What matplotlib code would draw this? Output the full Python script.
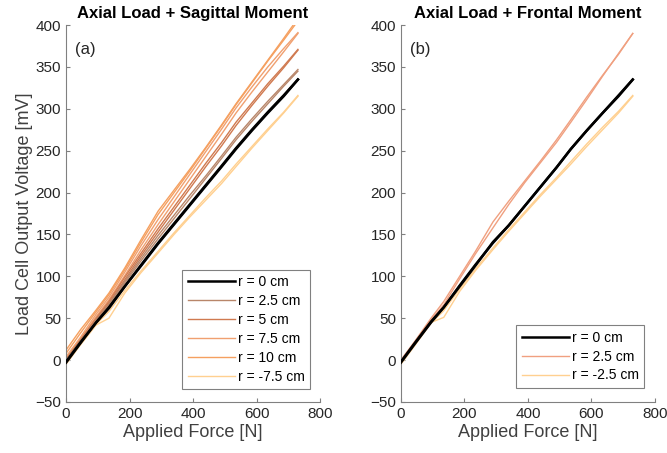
import matplotlib
matplotlib.use("Agg")
import matplotlib.pyplot as plt
import numpy as np

plt.rcParams["font.family"] = ["Liberation Sans", "DejaVu Sans"]

# applied force steps [N]
force = [0, 45, 95, 135, 185, 235, 290, 340, 390, 440, 490, 535, 585, 635, 685, 730]

# panel (a): axial load + sagittal moment, two trials per offset [mV]
sag_labels = ["r = 0 cm", "r = 2.5 cm", "r = 5 cm", "r = 7.5 cm", "r = 10 cm", "r = -7.5 cm"]
sag_r0 = [[-3, 20, 45, 62, 88, 113, 140, 163, 186, 209, 232, 253, 275, 296, 316, 335],
          [-2, 21, 45, 63, 88, 112, 139, 162, 185, 208, 231, 252, 274, 295, 315, 335]]
sag_r25 = [[-2, 21, 47, 65, 92, 118, 145, 169, 193, 217, 241, 263, 285, 306, 327, 345],
           [0, 23, 48, 67, 94, 121, 149, 173, 197, 220, 244, 266, 288, 309, 329, 347]]
sag_r5 = [[-1, 22, 48, 68, 96, 124, 153, 179, 205, 231, 256, 280, 304, 327, 349, 370],
          [1, 24, 50, 70, 99, 127, 157, 183, 209, 235, 260, 284, 307, 330, 351, 371]]
sag_r75 = [[2, 25, 52, 72, 101, 131, 162, 189, 216, 243, 270, 295, 320, 344, 368, 390],
           [4, 27, 55, 75, 105, 136, 168, 195, 222, 249, 276, 301, 326, 350, 372, 391]]
sag_r10 = [[12, 36, 60, 80, 110, 143, 178, 203, 228, 254, 281, 306, 332, 358, 384, 408],
           [8, 32, 58, 78, 108, 140, 174, 200, 226, 253, 280, 305, 331, 357, 382, 405]]
sag_rm75 = [[-5, 18, 42, 50, 80, 104, 128, 150, 171, 191, 211, 231, 253, 274, 295, 315],
            [-4, 19, 43, 58, 83, 106, 130, 152, 173, 194, 214, 234, 255, 276, 296, 316]]
sag_colors = ["#000000", "#B8866A", "#D07A50", "#F0A070", "#F5A060", "#FFD090"]

# panel (b): axial load + frontal moment [mV]
fro_labels = ["r = 0 cm", "r = 2.5 cm", "r = -2.5 cm"]
fro_r0 = [[-3, 20, 45, 63, 88, 113, 141, 161, 184, 207, 230, 252, 274, 295, 316, 335],
          [-2, 21, 46, 63, 89, 114, 140, 161, 184, 207, 230, 252, 274, 295, 315, 335]]
fro_r25 = [[0, 23, 50, 70, 100, 130, 165, 190, 214, 238, 263, 287, 314, 340, 365, 390],
           [-1, 22, 48, 66, 97, 127, 158, 186, 212, 236, 260, 284, 311, 339, 366, 390]]
fro_rm25 = [[-5, 18, 45, 51, 82, 107, 132, 154, 175, 196, 216, 234, 255, 275, 295, 315],
            [-4, 19, 44, 59, 85, 109, 134, 156, 177, 198, 218, 237, 258, 278, 297, 316]]
fro_colors = ["#000000", "#F0A080", "#FFD090"]


def style_axes(ax, title, tag):
    ax.set_xlim(0, 800)
    ax.set_ylim(-50, 400)
    ax.set_xticks(np.arange(0, 801, 200))
    ax.set_yticks(np.arange(-50, 401, 50))
    for side in ["top", "right"]:
        ax.spines[side].set_visible(False)
    for side in ["left", "bottom"]:
        ax.spines[side].set_color("#808080")
        ax.spines[side].set_linewidth(0.8)
    ax.tick_params(direction="in", length=3, color="#808080", labelcolor="#262626", labelsize=11)
    ax.set_title(title, fontsize=12, fontweight="bold", pad=5)
    ax.text(0.035, 0.955, tag, transform=ax.transAxes, fontsize=12, va="top", color="#262626")
    ax.set_xlabel("Applied Force [N]", fontsize=13, color="#404040", labelpad=2)


def draw_panel(ax, sets, colors, labels, anchor):
    # back to front so the black r = 0 line sits on top
    handles = {}
    for i in range(len(sets) - 1, -1, -1):
        lw = 1.8 if i == 0 else 1.0
        for trial in sets[i]:
            ln, = ax.plot(force, trial, color=colors[i], lw=lw, zorder=3 if i == 0 else 2)
            handles.setdefault(i, ln)
    leg = ax.legend([handles[i] for i in range(len(sets))], labels, loc="lower right",
                    bbox_to_anchor=anchor, borderaxespad=0, fontsize=10,
                    handlelength=3.4, handletextpad=0.2, labelspacing=0.35,
                    borderpad=0.4, fancybox=False, framealpha=1, edgecolor="#808080")
    leg.get_frame().set_linewidth(0.8)


fig = plt.figure(figsize=(6.67, 4.53), dpi=100)
ax1 = fig.add_axes([0.099, 0.1126, 0.381, 0.832])
ax2 = fig.add_axes([0.601, 0.1126, 0.381, 0.832])

draw_panel(ax1, [sag_r0, sag_r25, sag_r5, sag_r75, sag_r10, sag_rm75], sag_colors, sag_labels, (0.96, 0.034))
style_axes(ax1, "Axial Load + Sagittal Moment", "(a)")
ax1.set_ylabel("Load Cell Output Voltage [mV]", fontsize=13, color="#404040", labelpad=2)

draw_panel(ax2, [fro_r0, fro_r25, fro_rm25], fro_colors, fro_labels, (0.957, 0.037))
style_axes(ax2, "Axial Load + Frontal Moment", "(b)")

fig.savefig("out.png", dpi=100)
